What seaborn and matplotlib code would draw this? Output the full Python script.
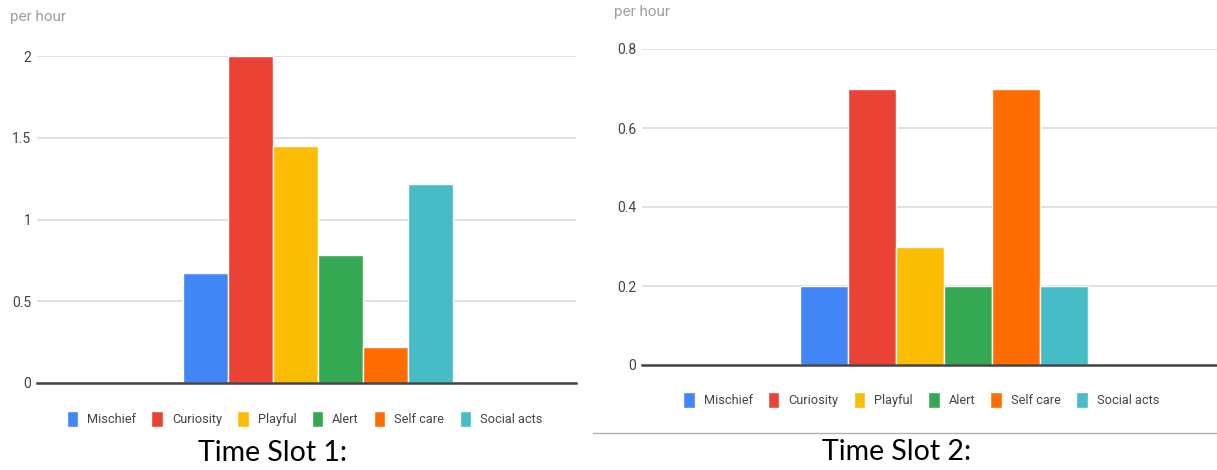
import matplotlib
matplotlib.use("Agg")
import matplotlib.pyplot as plt
import seaborn as sns
import pandas as pd
from matplotlib.lines import Line2D

behaviors = ["Mischief", "Curiosity", "Playful", "Alert", "Self care", "Social acts"]
slot1_values = [0.67, 2.0, 1.45, 0.78, 0.22, 1.22]
slot2_values = [0.2, 0.7, 0.3, 0.2, 0.7, 0.2]
colors = ["#4285F4", "#EA4335", "#FBBC04", "#34A853", "#FF6D01", "#46BDC6"]
slot1_ticks = [0, 0.5, 1, 1.5, 2]
slot1_ticklabels = ["0", "0.5", "1", "1.5", "2"]
slot2_ticks = [0, 0.2, 0.4, 0.6, 0.8]
slot2_ticklabels = ["0", "0.2", "0.4", "0.6", "0.8"]
titles = ["Time Slot 1:", "Time Slot 2:"]
y_label = "per hour"

sns.set_theme(style="white")
plt.rcParams['font.family'] = ['Roboto', 'DejaVu Sans']

W, H = 1217, 470
fig = plt.figure(figsize=(W / 100, H / 100), dpi=100)


def px_axes(left, top, right, bottom):
    return fig.add_axes([left / W, 1 - bottom / H, (right - left) / W, (bottom - top) / H])


panels = [
    dict(values=slot1_values, ticks=slot1_ticks, labels=slot1_ticklabels, ymax=2.0,
         box=(37, 56, 576, 383), center=317.5, group_px=270,
         legend=(304.5, 419), title=(273, 453), ylab=(10, 17)),
    dict(values=slot2_values, ticks=slot2_ticks, labels=slot2_ticklabels, ymax=0.8,
         box=(642, 49, 1217, 365), center=944, group_px=288,
         legend=(921, 400), title=(897, 452), ylab=(614, 12)),
]

for i, p in enumerate(panels):
    left, top, right, bottom = p["box"]
    ax = px_axes(left, top, right, bottom)
    df = pd.DataFrame({"slot": [""] * len(behaviors), "behavior": behaviors, "value": p["values"]})
    bw = 0.8
    sns.barplot(data=df, x="slot", y="value", hue="behavior", hue_order=behaviors,
                palette=colors, width=bw, saturation=1, edgecolor="white", linewidth=1,
                ax=ax)
    ppu = p["group_px"] / bw
    a = -(p["center"] - left) / ppu
    b = a + (right - left) / ppu
    ax.set_xlim(a, b)
    ax.set_ylim(0, p["ymax"])
    ax.set_xticks([])
    ax.set_xlabel("")
    ax.set_ylabel("")
    ax.set_yticks(p["ticks"])
    ax.set_yticklabels(p["labels"], color="#444444", fontsize=10)
    ax.tick_params(axis="y", length=0, pad=4)
    ax.yaxis.grid(True, color="#e0e0e0", lw=1.4)
    ax.set_axisbelow(True)
    for s in ["left", "right", "top"]:
        ax.spines[s].set_visible(False)
    ax.spines["bottom"].set_color("#444444")
    ax.spines["bottom"].set_linewidth(1.8)
    for patch in ax.patches:
        patch.set_clip_on(False)

    lx, ly = p["legend"]
    sns.move_legend(ax, "center", bbox_to_anchor=(lx / W, 1 - ly / H),
                    bbox_transform=fig.transFigure, ncol=6, frameon=False, title=None,
                    fontsize=9.2, handlelength=0.9, handleheight=1.6, handletextpad=0.7,
                    columnspacing=1.2)
    for t in ax.get_legend().get_texts():
        t.set_color("#444444")

    tx, ty = p["title"]
    fig.text(tx / W, 1 - ty / H, titles[i], ha="center", va="center", fontsize=20.5,
             family=["Lato", "DejaVu Sans"], color="black")
    yx, yy = p["ylab"]
    fig.text(yx / W, 1 - yy / H, y_label, ha="left", va="center", fontsize=11,
             color="#9e9e9e")

fig.add_artist(Line2D([593 / W, 1.0], [1 - 433 / H, 1 - 433 / H], transform=fig.transFigure,
                      color="#b0b0b0", lw=1))

fig.savefig("out.png", dpi=100, facecolor="white")
